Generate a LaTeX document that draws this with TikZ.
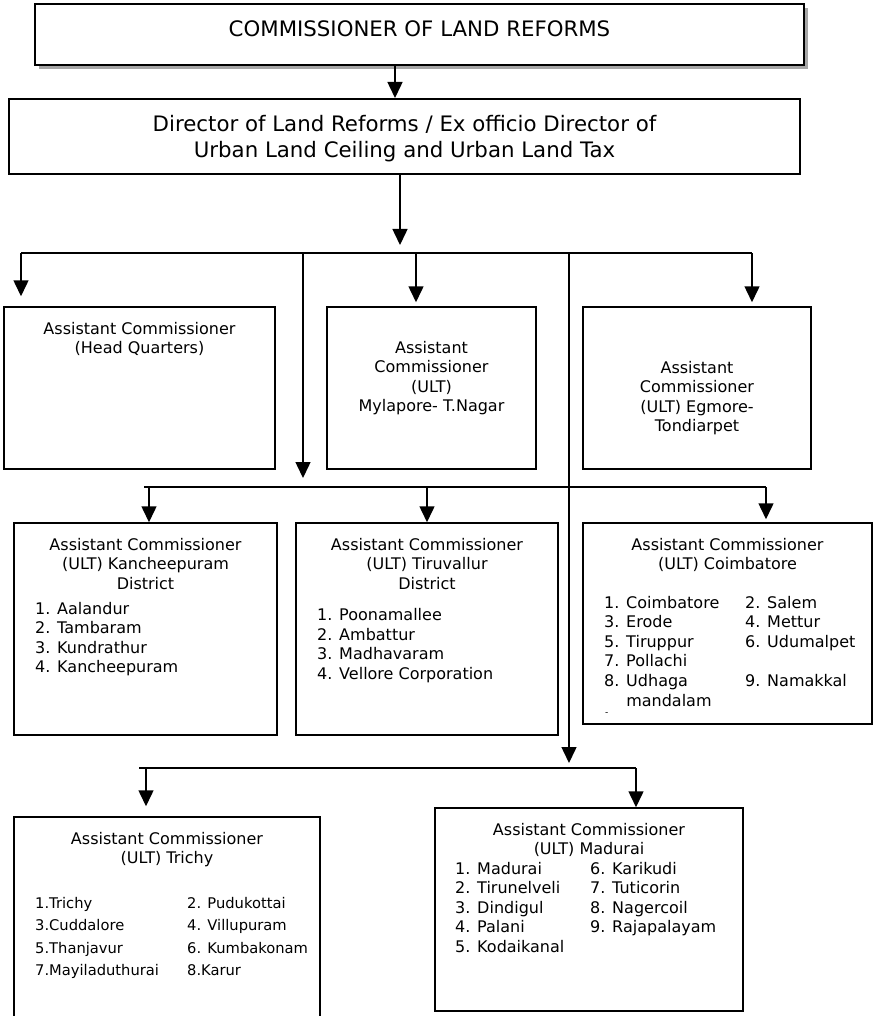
\documentclass[tikz,border=0pt]{standalone}
\usepackage{fontspec}
\setmainfont{DejaVu Sans}
\usetikzlibrary{arrows.meta, positioning, shadows}
\tikzset{
  box/.style={draw, rectangle, fill=white, line width=1.5pt, inner sep=0pt},
  bigtxt/.style={anchor=base, inner sep=0pt, font=\fontsize{21.3}{25.5}\selectfont},
  hdtxt/.style={anchor=base, inner sep=0pt, font=\fontsize{16}{19.5}\selectfont},
  lsttxt/.style={anchor=base west, inner sep=0pt, font=\fontsize{16}{19.6}\selectfont},
  smalltxt/.style={anchor=base west, inner sep=0pt, font=\fontsize{14.7}{22.6}\selectfont},
  link/.style={line width=1.5pt},
  arr/.style={line width=1.5pt, -{Triangle[length=16pt,width=15pt]}},
}
\newcommand{\stack}[1]{\begin{tabular}[t]{@{}c@{}}#1\end{tabular}}
\newcommand{\lst}[1]{\begin{tabular}[t]{@{}l@{}}#1\end{tabular}}

\begin{document}
\begin{tikzpicture}[x=1pt,y=-1pt]
    \fill[white] (0,0) rectangle (873,1016);
    \useasboundingbox (0,0) rectangle (873,1016);

    % top of the chart
    \node[box, minimum width=769pt, minimum height=61pt,
          drop shadow={shadow xshift=4pt, shadow yshift=-4pt, fill=black!35, opacity=1}] (com) at (419.5,34.5) {};
    \node[bigtxt] (comtxt) at (419.5,37) {COMMISSIONER OF LAND REFORMS};
    \node[box, line width=2pt, minimum width=791pt, minimum height=75pt] (dir) at (404.5,136.5) {};
    \node[bigtxt] (dirtxt) at (404.5,132) {\stack{Director of Land Reforms / Ex officio Director of\\Urban Land Ceiling and Urban Land Tax}};

    % first row
    \node[box, minimum width=271pt, minimum height=162pt] (hq) at (139.5,388) {};
    \node[hdtxt] (hqtxt) at (139.5,334) {\stack{Assistant Commissioner\\(Head Quarters)}};
    \node[box, minimum width=209pt, minimum height=162pt] (myl) at (431.5,388) {};
    \node[hdtxt] (myltxt) at (431.5,353) {\stack{Assistant\\Commissioner\\(ULT)\\Mylapore- T.Nagar}};
    \node[box, minimum width=228pt, minimum height=162pt] (egm) at (697,388) {};
    \node[hdtxt] (egmtxt) at (697,373) {\stack{Assistant\\Commissioner\\(ULT) Egmore-\\Tondiarpet}};

    % second row
    \node[box, minimum width=263pt, minimum height=212pt] (kan) at (145.5,629) {};
    \node[hdtxt] (kantxt) at (145.5,550) {\stack{Assistant Commissioner\\(ULT) Kancheepuram\\District}};
    \node[lsttxt] (kanlst) at (35,614) {\lst{1. Aalandur\\2. Tambaram\\3. Kundrathur\\4. Kancheepuram}};
    \node[box, minimum width=262pt, minimum height=212pt] (tiru) at (427,629) {};
    \node[hdtxt] (tirutxt) at (427,550) {\stack{Assistant Commissioner\\(ULT) Tiruvallur\\District}};
    \node[lsttxt] (tirulst) at (317,620.5) {\lst{1. Poonamallee\\2. Ambattur\\3. Madhavaram\\4. Vellore Corporation}};
    \node[box, minimum width=289pt, minimum height=201pt] (coim) at (727.5,623.5) {};
    \node[hdtxt] (coimtxt) at (727.5,550) {\stack{Assistant Commissioner\\(ULT) Coimbatore}};
    \node[lsttxt] (coimlsta) at (604,608) {\lst{1. Coimbatore\\3. Erode\\5. Tiruppur\\7. Pollachi\\8. Udhaga\\\phantom{8. }mandalam}};
    \node[lsttxt] (coimlstb) at (745,608) {\lst{2. Salem\\4. Mettur\\6. Udumalpet\\ \\9. Namakkal}};
    \node[lsttxt, font=\fontsize{9}{9}\selectfont] (coimdash) at (605,715) {-};

    % third row
    \node[box, minimum width=306pt, minimum height=213pt] (tri) at (167,923.5) {};
    \node[hdtxt] (tritxt) at (167,844) {\stack{Assistant Commissioner\\(ULT) Trichy}};
    \node[smalltxt] (trilsta) at (35,908) {\lst{1.Trichy\\3.Cuddalore\\5.Thanjavur\\7.Mayiladuthurai}};
    \node[smalltxt] (trilstb) at (187,908) {\lst{2. Pudukottai\\4. Villupuram\\6. Kumbakonam\\8.Karur}};
    \node[box, minimum width=308pt, minimum height=203pt] (mad) at (589,909.5) {};
    \node[hdtxt] (madtxt) at (589,835) {\stack{Assistant Commissioner\\(ULT) Madurai}};
    \node[lsttxt] (madlsta) at (455,874) {\lst{1. Madurai\\2. Tirunelveli\\3. Dindigul\\4. Palani\\5. Kodaikanal}};
    \node[lsttxt] (madlstb) at (590,874) {\lst{6. Karikudi\\7. Tuticorin\\8. Nagercoil\\9. Rajapalayam}};

    % bus lines
    \coordinate (busAL) at (21,253);
    \coordinate (busAR) at (752,253);
    \coordinate (spB) at (303,253);
    \coordinate (spC) at (569,253);
    \coordinate (busBL) at (144,487);
    \coordinate (busBR) at (766,487);
    \coordinate (busCL) at (139,768);
    \coordinate (busCR) at (636,768);

    \draw[arr] ([xshift=-24.5pt]com.south) -- ([xshift=-9.5pt]dir.north);
    \draw[arr, shorten >=8pt] ([xshift=-4.5pt]dir.south) -- ([xshift=-4.5pt]dir.south |- busAL);
    \draw[link] (busAL) -- (busAR);
    \draw[arr, shorten >=10pt] (busAL) -- (busAL |- hq.north);
    \draw[arr, shorten >=4pt] ([xshift=-15.5pt]myl.north |- busAL) -- ([xshift=-15.5pt]myl.north);
    \draw[arr, shorten >=4pt] (busAR) -- (busAR |- egm.north);
    \draw[arr, shorten >=9pt] (spB) -- (spB |- busBL);
    \draw[arr, shorten >=5pt] (spC) -- (spC |- busCL);

    \draw[link] (busBL) -- (busBR);
    \draw[arr] ([xshift=3.5pt]kan.north |- busBL) -- ([xshift=3.5pt]kan.north);
    \draw[arr] (tiru.north |- busBL) -- (tiru.north);
    \draw[arr, shorten >=3pt] (busBR) -- (busBR |- coim.north);

    \draw[link] (busCL) -- (busCR);
    \draw[arr, shorten >=10pt] ([xshift=-21pt]tri.north |- busCL) -- ([xshift=-21pt]tri.north);
    \draw[arr] (busCR) -- (busCR |- mad.north);
\end{tikzpicture}
\end{document}
